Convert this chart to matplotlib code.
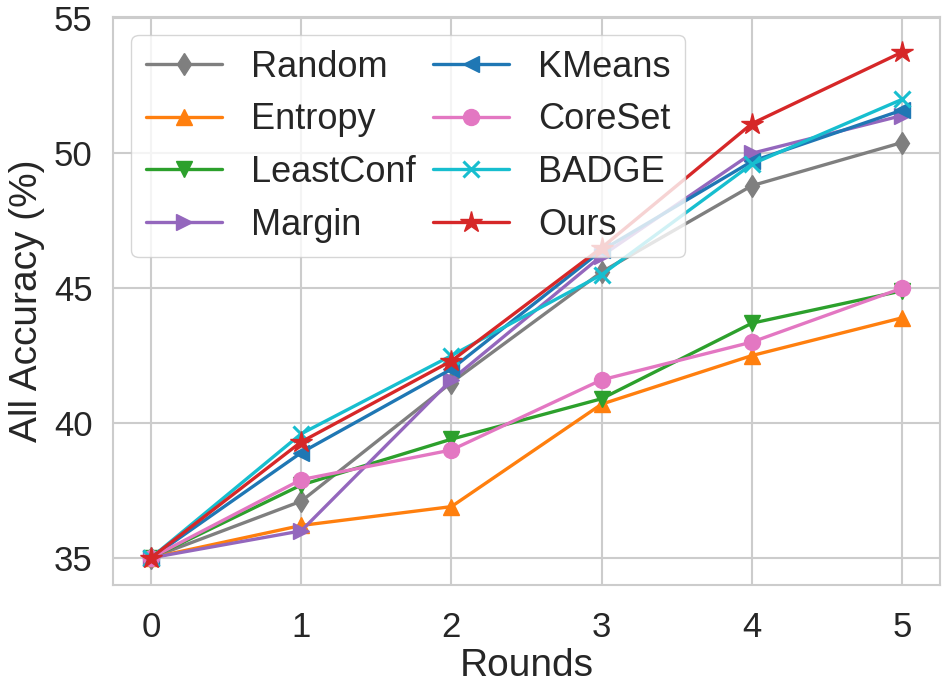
import numpy as np
import matplotlib
matplotlib.use("Agg")
import matplotlib.pyplot as plt
import seaborn as sns

rounds = [0, 1, 2, 3, 4, 5]

random_acc = [35.0, 37.1, 41.5, 45.6, 48.8, 50.4]
entropy_acc = [35.0, 36.2, 36.9, 40.7, 42.5, 43.9]
leastconf_acc = [35.0, 37.7, 39.4, 40.9, 43.7, 44.9]
margin_acc = [35.0, 36.0, 41.6, 46.2, 50.0, 51.4]
kmeans_acc = [35.0, 38.9, 42.0, 46.4, 49.7, 51.6]
coreset_acc = [35.0, 37.9, 39.0, 41.6, 43.0, 45.0]
badge_acc = [35.0, 39.6, 42.5, 45.5, 49.6, 52.0]
ours_acc = [35.0, 39.3, 42.3, 46.5, 51.1, 53.75]

methods = ["Random", "Entropy", "LeastConf", "Margin", "KMeans", "CoreSet", "BADGE", "Ours"]
series = [random_acc, entropy_acc, leastconf_acc, margin_acc,
          kmeans_acc, coreset_acc, badge_acc, ours_acc]
colors = ["#7f7f7f", "#ff7f0e", "#2ca02c", "#9467bd",
          "#1f77b4", "#e377c2", "#17becf", "#d62728"]
markers = ["d", "^", "v", ">", "<", "o", "x", "*"]

sns.set_style("whitegrid")
plt.rcParams['font.family'] = ['Liberation Sans', 'DejaVu Sans']

fig, ax = plt.subplots(figsize=(9.53, 6.84), dpi=100)
fig.subplots_adjust(left=0.119, right=0.986, bottom=0.145, top=0.975)

for name, ys, c, m in zip(methods, series, colors, markers):
    ms = 16 if m == "*" else 11.5
    mew = 2.2 if m == "x" else 1
    ax.plot(rounds, ys, color=c, marker=m, markersize=ms, linewidth=2.4,
            markeredgewidth=mew, label=name)

ax.set_xlim(-0.25, 5.25)
ax.set_ylim(34, 55.05)
ax.set_xticks(rounds)
ax.set_yticks([35, 40, 45, 50, 55])
ax.tick_params(labelsize=25, colors="#262626", length=0)
ax.tick_params(axis="x", pad=19)
ax.tick_params(axis="y", pad=15)
ax.set_xlabel("Rounds", fontsize=28, labelpad=3)
ax.set_ylabel("All Accuracy (%)", fontsize=28, labelpad=6)

for s in ax.spines.values():
    s.set_color("#cccccc")
    s.set_linewidth(1.5)
ax.grid(color="#cccccc", linewidth=1.5)

ax.legend(loc="upper left", ncol=2, fontsize=26, frameon=True,
          borderaxespad=0.5, handlelength=2.1, columnspacing=0.5,
          labelspacing=0.49, handletextpad=0.8)

fig.savefig("out.png", dpi=100)
